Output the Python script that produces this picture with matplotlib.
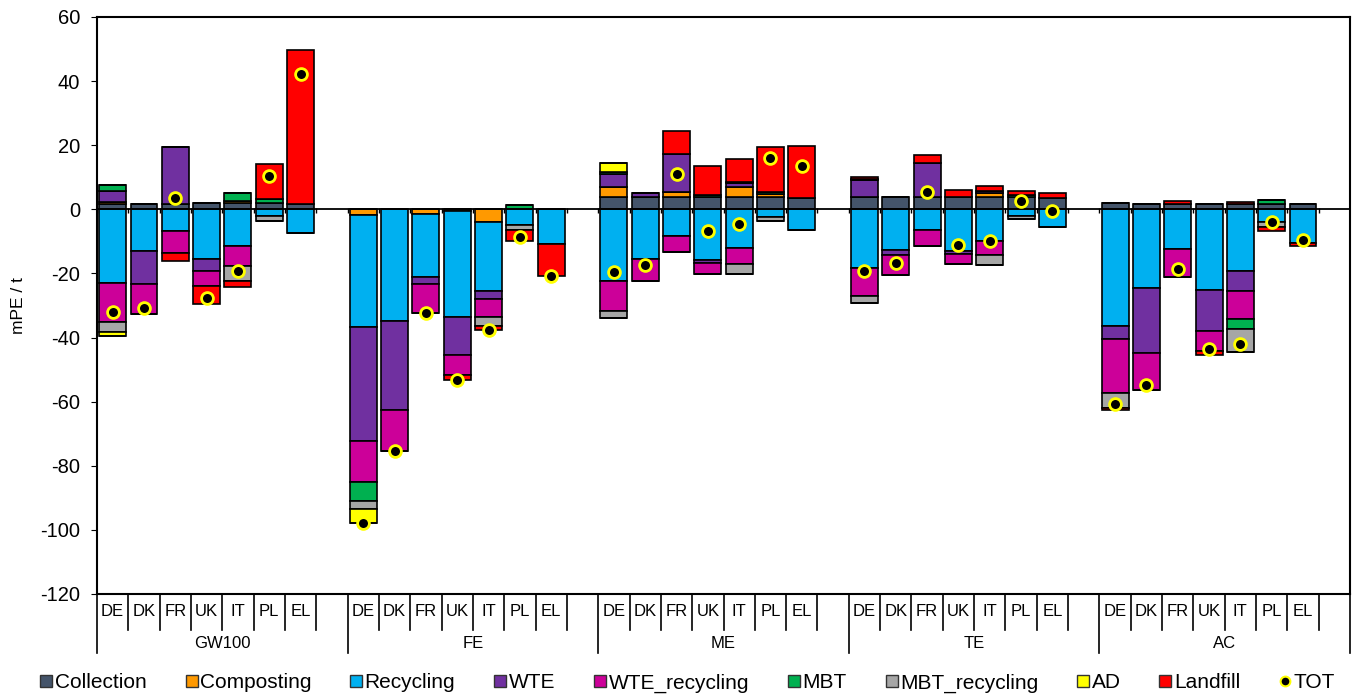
import matplotlib

matplotlib.use("Agg")
import matplotlib.pyplot as plt
import numpy as np
from matplotlib.lines import Line2D
from matplotlib.transforms import blended_transform_factory

plt.rcParams["font.family"] = ["Liberation Sans", "DejaVu Sans"]
plt.rcParams["axes.unicode_minus"] = False

GROUPS = ["GW100", "FE", "ME", "TE", "AC"]
COUNTRIES = ["DE", "DK", "FR", "UK", "IT", "PL", "EL"]
SERIES = [
    "Collection",
    "Composting",
    "Recycling",
    "WTE",
    "WTE_recycling",
    "MBT",
    "MBT_recycling",
    "AD",
    "Landfill",
]
COLORS = [
    "#44546A",
    "#FF9900",
    "#00B0F0",
    "#7030A0",
    "#CC0099",
    "#00B050",
    "#A6A6A6",
    "#FFFF00",
    "#FF0000",
]

# one row per group (GW100, FE, ME, TE, AC), columns DE DK FR UK IT PL EL
collection = [
    [1.8, 1.8, 1.8, 2.0, 2.0, 2.0, 1.8],
    [0, 0, 0, 0, 0, 0, 0],
    [4.0, 4.0, 4.0, 4.0, 4.0, 3.8, 3.6],
    [4.0, 3.8, 4.0, 4.0, 4.0, 4.0, 3.6],
    [2.0, 1.6, 1.6, 1.8, 1.8, 1.6, 1.6],
]
composting = [
    [0.4, 0, 0, 0, 0.5, 0, 0],
    [-1.7, 0, -1.4, -0.5, -3.9, 0, 0],
    [3.0, 0, 1.4, 0, 3.1, 1.0, 0],
    [0, 0, 0, 0, 1.0, 0, 0],
    [0, 0, 0, 0, 0, 0, 0],
]
recycling = [
    [-23.0, -13.1, -6.9, -15.5, -11.3, -2.0, -7.4],
    [-35.1, -34.8, -19.6, -33.0, -21.5, -4.8, -10.8],
    [-22.3, -15.5, -8.2, -15.8, -12.2, -2.5, -6.3],
    [-18.3, -12.6, -6.4, -13.1, -9.8, -2.2, -5.4],
    [-36.5, -24.6, -12.3, -25.3, -19.1, -4.0, -10.6],
]
wte = [
    [3.6, -10.2, 17.6, -3.7, 0, 0, 0],
    [-35.6, -27.8, -2.3, -11.9, -2.6, 0, 0],
    [4.0, 1.2, 11.9, -1.0, 1.0, 0, 0],
    [5.0, -1.6, 10.4, -0.8, 0.8, 0, 0],
    [-3.9, -20.2, 0, -12.7, -6.5, 0, 0],
]
wte_recycling = [
    [-12.3, -9.4, -6.8, -4.6, -6.3, 0, 0],
    [-12.8, -12.9, -8.9, -6.3, -5.5, 0, 0],
    [-9.4, -7.0, -5.0, -3.4, -4.7, 0, 0],
    [-8.7, -6.3, -4.9, -3.2, -4.4, 0, 0],
    [-17.0, -11.5, -8.8, -6.3, -8.6, 0, 0],
]
mbt = [
    [1.8, 0, 0, 0, 2.5, 1.2, 0],
    [-5.8, 0, 0, 0, 0, 1.4, 0],
    [0.6, 0, 0, 0.5, 0.5, 0.7, 0],
    [0.4, 0, 0, 0, 0, 0.6, 0],
    [0, 0, 0, 0, -3.2, 1.2, 0],
]
mbt_recycling = [
    [-3.1, 0, 0, 0, -4.7, -1.5, 0],
    [-2.6, 0, 0, 0, -2.8, -1.6, 0],
    [-2.2, 0, 0, 0, -3.3, -1.0, 0],
    [-2.1, 0, 0, 0, -3.1, -0.8, 0],
    [-4.7, 0, 0, 0, -7.0, -1.6, 0],
]
ad = [
    [-1.1, 0, 0, 0, 0, 0, 0],
    [-4.4, 0, 0, 0, 0, 0, 0],
    [2.8, 0, 0, 0, 0, 0, 0],
    [0, 0, 0, 0, 0, 0, 0],
    [0, 0, 0, 0, 0, 0, 0],
]
landfill = [
    [0, 0, -2.3, -5.8, -1.9, 10.8, 47.8],
    [0, 0, 0, -1.6, -1.3, -3.6, -10.0],
    [0, 0, 7.0, 8.9, 7.1, 14.0, 16.2],
    [0.6, 0, 2.4, 1.9, 1.6, 1.0, 1.4],
    [-0.5, 0, 1.0, -1.0, 0.6, -1.1, -0.7],
]

series_values = [
    collection,
    composting,
    recycling,
    wte,
    wte_recycling,
    mbt,
    mbt_recycling,
    ad,
    landfill,
]

n_groups = len(GROUPS)
n_ctry = len(COUNTRIES)
slots = n_ctry + 1  # one empty slot after each group

x = np.array([g * slots + c + 0.5 for g in range(n_groups) for c in range(n_ctry)])
data = np.array([np.array(s).ravel() for s in series_values])
tot = data.sum(axis=0)

fig = plt.figure(figsize=(13.57, 6.97), dpi=100)
ax = fig.add_axes([97 / 1357, 1 - 594 / 697, 1253 / 1357, 577 / 697])

pos_bottom = np.zeros(len(x))
neg_bottom = np.zeros(len(x))
for vals, color in zip(data, COLORS):
    pos = np.where(vals > 0, vals, 0)
    neg = np.where(vals < 0, vals, 0)
    ax.bar(x, pos, 0.86, bottom=pos_bottom, color=color, edgecolor="black", linewidth=1.2, zorder=2)
    ax.bar(x, neg, 0.86, bottom=neg_bottom, color=color, edgecolor="black", linewidth=1.2, zorder=2)
    pos_bottom += pos
    neg_bottom += neg

ax.plot(x, tot, "o", color="black", markeredgecolor="#FFFF00", markersize=8.5, markeredgewidth=2, zorder=4)

ax.set_xlim(0, n_groups * slots)
ax.set_ylim(-120, 60)
ax.set_yticks(np.arange(-120, 61, 20))
ax.tick_params(axis="y", labelsize=14.5, length=4, pad=8)
ax.set_xticks([])
ax.set_ylabel("mPE / t", fontsize=12.5)
ax.yaxis.set_label_coords(-0.057, 0.5)
for sp in ax.spines.values():
    sp.set_linewidth(1.5)

# zero axis with tick marks
ax.axhline(0, color="black", linewidth=1.3, zorder=3)
ax.vlines(np.arange(0, n_groups * slots + 1), -1.2, 0.4, color="black", linewidth=1.0, zorder=3)

# multi-level category axis
trans = blended_transform_factory(ax.transData, ax.transAxes)
for g in range(n_groups):
    x0 = g * slots
    ax.plot([x0, x0], [0, -0.103], color="black", linewidth=1.2, transform=trans, clip_on=False)
    for c in range(1, slots):
        ax.plot([x0 + c, x0 + c], [0, -0.062], color="black", linewidth=1.2, transform=trans, clip_on=False)
    for c, name in enumerate(COUNTRIES):
        ax.text(x0 + c + 0.5, -0.031, name, transform=trans, ha="center", va="center", fontsize=12)
    ax.text(x0 + slots / 2, -0.085, GROUPS[g], transform=trans, ha="center", va="center", fontsize=12)
ax.plot([n_groups * slots] * 2, [0, -0.103], color="black", linewidth=1.2, transform=trans, clip_on=False)

handles = [
    Line2D([], [], marker="s", linestyle="", markersize=9, markerfacecolor=col, markeredgecolor="#333333")
    for col in COLORS
]
handles.append(
    Line2D([], [], marker="o", linestyle="", markersize=7, markerfacecolor="black", markeredgecolor="#FFFF00", markeredgewidth=1.5)
)
fig.legend(
    handles,
    SERIES + ["TOT"],
    loc="center",
    bbox_to_anchor=(0.507, 1 - 683 / 697),
    ncol=10,
    frameon=False,
    fontsize=15,
    handlelength=0.5,
    handletextpad=0.15,
    columnspacing=1.91,
)

fig.savefig("out.png", dpi=100)
